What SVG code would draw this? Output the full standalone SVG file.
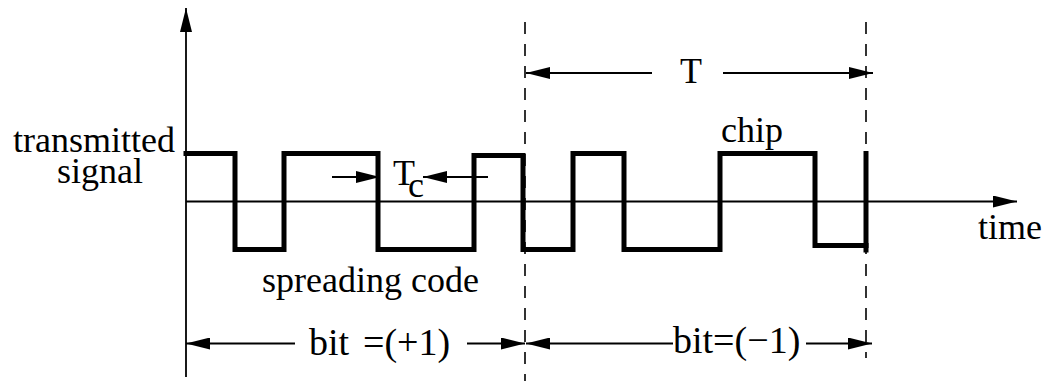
<svg xmlns="http://www.w3.org/2000/svg" width="1047" height="381" viewBox="0 0 1047 381">
<style>
text{font-family:"Liberation Serif","Times New Roman",serif;font-size:36px;fill:#000}
.thin{stroke:#000;stroke-width:1.8;fill:none}
.dash{stroke:#000;stroke-width:1.6;fill:none;stroke-dasharray:12 10}
.sig{stroke:#000;stroke-width:5;fill:none;stroke-linejoin:miter;stroke-linecap:square}
.big{font-size:38px}
</style>
<defs>
<marker id="ah" markerUnits="userSpaceOnUse" markerWidth="25" markerHeight="12" refX="24" refY="6" orient="auto" viewBox="0 0 25 12">
<path d="M0,0 L24,6 L0,12 Z" fill="#000"/>
</marker>
</defs>
<rect width="1047" height="381" fill="#fff"/>
<g id="axes">
<line class="thin" x1="186" y1="377" x2="186" y2="8" marker-end="url(#ah)"/>
<line class="thin" x1="186" y1="201.5" x2="1017" y2="201.5" marker-end="url(#ah)"/>
</g>
<g id="dashed">
<line class="dash" x1="525" y1="22" x2="525" y2="381"/>
<line class="dash" x1="866" y1="22" x2="866" y2="358"/>
</g>
<g id="signal">
<path class="sig" d="M186,153.5 H235 V249.5 H284 V153.5 H378 V249.5 H474 V155.5 H523 V249.5 H573 V153.5 H624 V249.5 H720 V153.5 H815 V245.5 H866"/>
<line class="sig" x1="866" y1="153.5" x2="866" y2="250"/>
</g>
<g id="connectors">
<line class="thin" x1="652" y1="73" x2="526" y2="73" marker-end="url(#ah)"/>
<line class="thin" x1="723" y1="73" x2="873" y2="73" marker-end="url(#ah)"/>
<line class="thin" x1="332" y1="177" x2="380" y2="177" marker-end="url(#ah)"/>
<line class="thin" x1="488" y1="177" x2="423" y2="177" marker-end="url(#ah)"/>
<line class="thin" x1="295" y1="343.5" x2="186" y2="343.5" marker-end="url(#ah)"/>
<line class="thin" x1="467" y1="343.5" x2="525" y2="343.5" marker-end="url(#ah)"/>
<line class="thin" x1="673" y1="343.5" x2="526" y2="343.5" marker-end="url(#ah)"/>
<line class="thin" x1="806" y1="343.5" x2="872" y2="343.5" marker-end="url(#ah)"/>
</g>
<g id="labels">
<text x="13" y="152">transmitted</text>
<text x="57" y="183">signal</text>
<text x="680" y="83">T</text>
<text x="721" y="142">chip</text>
<text x="978" y="239">time</text>
<text x="393" y="185">T<tspan x="408" y="197">c</tspan></text>
<text x="262" y="292">spreading code</text>
<text class="big" x="309" y="355">bit<tspan x="363">=(+1)</tspan></text>
<text class="big" x="673" y="353">bit=(−1)</text>
</g>
</svg>
